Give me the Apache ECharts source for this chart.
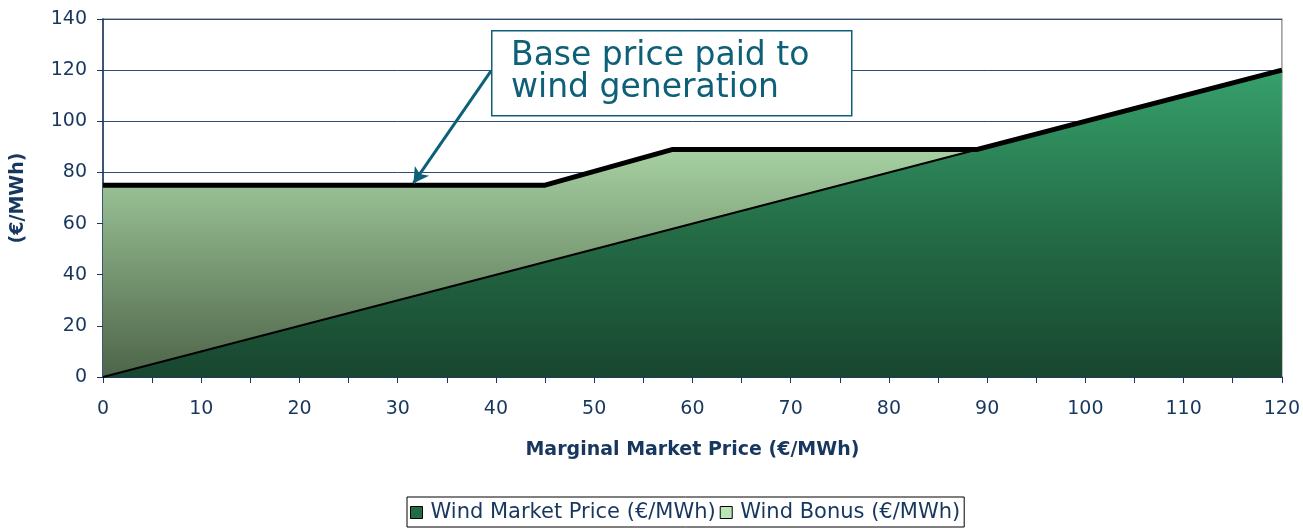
<!DOCTYPE html>
<html>
<head>
<meta charset="utf-8">
<script src="https://cdn.jsdelivr.net/npm/echarts@6/dist/echarts.min.js"></script>
<style>
  html, body { margin: 0; padding: 0; background: #fff; }
  #chart { width: 1303px; height: 528px; }
</style>
</head>
<body>
<div id="chart"></div>
<script>
// breakpoints of the marginal market price (€/MWh)
const priceX = [0, 45, 58, 89, 120]
const marketPrice = [0, 45, 58, 89, 120]
const windBonus = [75, 30, 31, 0, 0]
const basePrice = [75, 75, 89, 89, 120]

const xTicks = { min: 0, max: 120, interval: 10 }
const yTicks = { min: 0, max: 140, interval: 20 }

const annotationText = 'Base price paid to\nwind generation'
const arrowFrom = [39.5, 119.7]
const arrowTo = [31.6, 75.8]

const navy = '#17375e'
const teal = '#0e6079'
const fontFamily = '"DejaVu Sans", sans-serif'

const pairs = ys => priceX.map((x, i) => [x, ys[i]])
// bonus sits on top of the market price, summed here since stacking on a value axis is unreliable
const bonusTop = priceX.map((x, i) => [x, marketPrice[i] + windBonus[i]])

const chart = echarts.init(document.getElementById('chart'))

chart.setOption({
  backgroundColor: '#fff',
  animation: false,
  textStyle: { fontFamily },
  grid: {
    left: 103, right: 21, top: 19, bottom: 151,
    show: true, borderColor: '#9a9a9a', borderWidth: 1.5, backgroundColor: 'transparent'
  },
  xAxis: {
    type: 'value',
    min: xTicks.min, max: xTicks.max, interval: xTicks.interval,
    name: 'Marginal Market Price (€/MWh)',
    nameLocation: 'middle',
    nameGap: 64,
    nameTextStyle: { color: navy, fontSize: 19, fontWeight: 'bold', fontFamily },
    axisLine: { lineStyle: { color: navy, width: 1.5 } },
    axisTick: { length: 6, lineStyle: { color: navy } },
    minorTick: { show: true, splitNumber: 2, length: 6, lineStyle: { color: navy } },
    axisLabel: { color: navy, fontSize: 19, margin: 23, fontFamily },
    splitLine: { show: false }
  },
  yAxis: {
    type: 'value',
    min: yTicks.min, max: yTicks.max, interval: yTicks.interval,
    name: '(€/MWh)',
    nameLocation: 'middle',
    nameRotate: 90,
    nameGap: 75,
    nameTextStyle: { color: navy, fontSize: 19, fontWeight: 'bold', fontFamily },
    axisLine: { show: true, lineStyle: { color: navy, width: 1.5 } },
    axisTick: { show: true, length: 6, lineStyle: { color: navy } },
    axisLabel: { color: navy, fontSize: 19, margin: 16, fontFamily },
    splitLine: { lineStyle: { color: '#2b4b78', width: 1 } }
  },
  legend: {
    bottom: 1,
    left: 407,
    data: ['Wind Market Price (€/MWh)', 'Wind Bonus (€/MWh)'],
    icon: 'rect',
    itemWidth: 12,
    itemHeight: 12,
    itemGap: 4,
    padding: [5, 4, 4, 3],
    borderColor: '#000',
    borderWidth: 1,
    itemStyle: { borderColor: '#000', borderWidth: 1 },
    textStyle: { color: navy, fontSize: 21, fontFamily, padding: [0, 0, 0, 3] }
  },
  series: [
    {
      name: 'Wind Bonus (€/MWh)',
      type: 'line',
      data: bonusTop,
      symbol: 'none',
      color: '#b8e6b4',
      lineStyle: { width: 0 },
      areaStyle: {
        opacity: 1,
        color: new echarts.graphic.LinearGradient(0, 0, 0, 1, [
          { offset: 0, color: '#c4f0c2' },
          { offset: 0.18, color: '#b0dcab' },
          { offset: 1, color: '#4d6448' }
        ])
      },
      z: 2
    },
    {
      name: 'Wind Market Price (€/MWh)',
      type: 'line',
      data: pairs(marketPrice),
      symbol: 'none',
      color: '#236b47',
      lineStyle: { color: '#000', width: 2 },
      areaStyle: {
        opacity: 1,
        color: new echarts.graphic.LinearGradient(0, 0, 0, 1, [
          { offset: 0, color: '#36a06b' },
          { offset: 0.55, color: '#236a45' },
          { offset: 1, color: '#18462f' }
        ])
      },
      z: 3
    },
    {
      name: 'Base price',
      type: 'line',
      data: pairs(basePrice),
      symbol: 'none',
      lineStyle: { color: '#000', width: 5, join: 'bevel' },
      z: 4,
      markLine: {
        silent: true,
        symbol: ['none', 'arrow'],
        symbolSize: [13, 15],
        label: { show: false },
        lineStyle: { color: teal, width: 3, type: 'solid' },
        data: [[{ coord: arrowFrom }, { coord: arrowTo }]]
      }
    }
  ],
  graphic: [
    {
      type: 'rect',
      left: 491, top: 30,
      shape: { width: 360, height: 85 },
      style: { fill: '#fff', stroke: teal, lineWidth: 1.5 },
      z: 10
    },
    {
      type: 'text',
      left: 511, top: 40,
      style: {
        text: annotationText,
        fill: teal,
        font: '33px "DejaVu Sans", sans-serif',
        lineHeight: 32
      },
      z: 11
    }
  ]
})
</script>
</body>
</html>
